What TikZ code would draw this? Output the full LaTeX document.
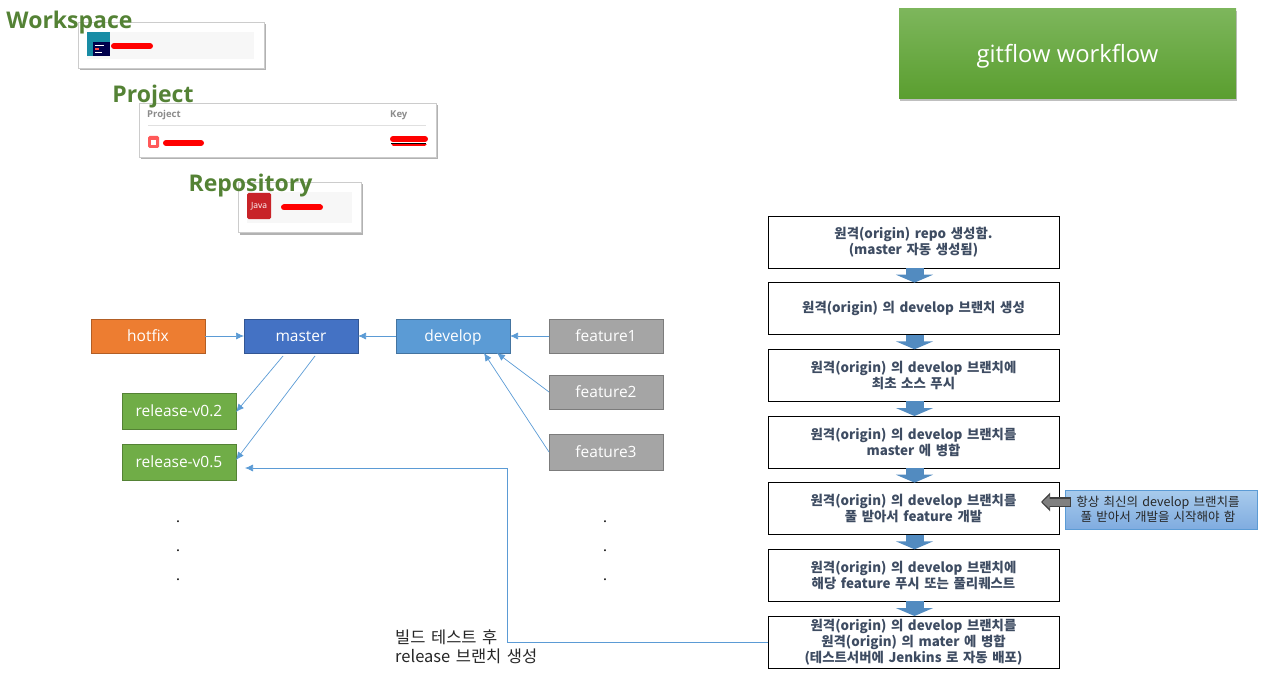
\documentclass[tikz,border=0pt]{standalone}
\usepackage{fontspec}
\usepackage{xcolor}
\usetikzlibrary{arrows.meta,positioning,shadows}
\setmainfont{Open Sans}
\newfontfamily\krfont[WordSpace=1.5]{Noto Sans CJK KR}
\definecolor{accent}{RGB}{91,155,213}
\definecolor{steptext}{RGB}{62,76,98}
\definecolor{labelgreen}{RGB}{84,130,53}
\definecolor{hotfixfill}{RGB}{237,125,49}
\definecolor{masterfill}{RGB}{68,114,196}
\definecolor{featurefill}{RGB}{165,165,165}
\definecolor{releasefill}{RGB}{112,173,71}
\definecolor{titletop}{RGB}{125,182,92}
\definecolor{titlebot}{RGB}{90,158,47}
\definecolor{notetop}{RGB}{168,203,236}
\definecolor{notebot}{RGB}{128,172,224}
\definecolor{wsicon}{RGB}{24,140,165}
\definecolor{javared}{RGB}{200,35,40}
\newcommand{\dotcol}[1]{\node[dotmark] (#1a) at (#1,522) {.};
  \node[dotmark] (#1b) at (#1,551) {.};
  \node[dotmark] (#1c) at (#1,580) {.};}

\begin{document}
\begin{tikzpicture}[
  x=1pt,y=-1pt,
  branch/.style={draw=#1!75!black,fill=#1,text=white,minimum width=114pt,minimum height=34pt,
    text height=13pt,text depth=1.5pt,
    inner sep=0pt,outer sep=0pt,line width=0.8pt,font=\fontsize{15.5}{18}\selectfont},
  card/.style={draw=black!20,fill=white,line width=0.8pt,minimum width=#1,outer sep=0pt,
    drop shadow={shadow xshift=1.5pt,shadow yshift=-2.5pt,fill=black!60}},
  heading/.style={text=labelgreen,inner sep=0pt,font=\fontsize{23}{26}\selectfont\bfseries},
  stepbox/.style={draw=black,fill=white,text=steptext,minimum width=291pt,minimum height=52pt,
    inner sep=0pt,outer sep=0pt,line width=0.9pt,align=center,font=\krfont\fontsize{13.4}{16}\selectfont\bfseries},
  flowarr/.style={-{Triangle[width=37pt,length=8pt]},line width=18pt,accent!90!black},
  arr/.style={-{Latex[length=8pt,width=7pt]},line width=0.7pt,accent},
  dotmark/.style={inner sep=0pt,font=\fontsize{15}{18}\selectfont},
  redact/.style={red,line width=6pt,line cap=round},
  node distance=14.67pt,
]
  \useasboundingbox (0,0) rectangle (1263,687);

  % screenshots
  \node[card=186pt,minimum height=46pt] (wscard) at (171,45) {};
  \fill[black!3] (87,32) rectangle (254,59);
  \fill[wsicon] (87,32) rectangle (110,56);
  \fill[blue!30!black] (93,42) rectangle (110,56);
  \fill[white] (95,45) rectangle (104,46.5);
  \fill[red!70] (95,48.5) rectangle (99,50);
  \fill[white] (95,52) rectangle (102,53.5);
  \draw[redact] (114,46) -- (150,46);
  \node[card=297pt,minimum height=54pt] (prcard) at (287.5,130) {};
  \begin{scope}
    \clip (140,110) rectangle (430,124);
    \node[text=black!45,inner sep=0pt,anchor=west,font=\fontsize{9.5}{11}\selectfont\bfseries] (prhead) at (147,115) {Project};
    \node[text=black!45,inner sep=0pt,anchor=west,font=\fontsize{9.5}{11}\selectfont\bfseries] (keyhead) at (390,115) {Key};
  \end{scope}
  \draw[black!12] (148,125) -- (426,125);
  \fill[red!65,rounded corners=1.5pt] (148,136) rectangle (159,148);
  \fill[white] (151,140) rectangle (156,145);
  \draw[redact] (166,143) -- (201,143);
  \draw[red,line width=3pt,line cap=round] (393,145) -- (425,145);
  \draw[redact] (393,139) -- (425,139);
  \draw[black,line width=0.8pt] (391,143) -- (426,143);
  \node[card=123pt,minimum height=50pt] (rpcard) at (299.5,207) {};
  \fill[black!3] (247,192) rectangle (352,223);
  \node[fill=javared,text=white,rounded corners=1.5pt,minimum width=24pt,minimum height=26pt,inner sep=0pt,
    font=\fontsize{8.5}{9}\selectfont] (javaicon) at (259,206) {Java};
  \draw[redact] (284,207.5) -- (320,207.5);

  \node[heading] (wslabel) at (69.5,23) {Workspace};
  \node[heading] (prlabel) at (153,97) {Project};
  \node[heading] (rplabel) at (250.5,186) {Repository};

  \node[draw=none,top color=titletop,bottom color=titlebot,text=white,outer sep=0pt,inner sep=0pt,
    minimum width=337pt,minimum height=90pt,text height=20pt,text depth=3pt,
    drop shadow={shadow xshift=1pt,shadow yshift=-2pt,fill=black!50},
    font=\fontsize{23.8}{26}\selectfont] (title) at (1067.5,54) {gitflow workflow};

  % branches
  \node[branch=hotfixfill] (hotfix) at (148,336) {hotfix};
  \node[branch=masterfill,right=39pt of hotfix] (master) {master};
  \node[branch=accent,right=38pt of master] (develop) {develop};
  \node[branch=featurefill,right=39pt of develop] (feature1) {feature1};
  \node[branch=featurefill,below=22pt of feature1] (feature2) {feature2};
  \node[branch=featurefill,minimum height=36pt,below=25pt of feature2] (feature3) {feature3};
  \node[branch=releasefill,minimum height=36pt] (rel02) at (179,411) {release-v0.2};
  \node[branch=releasefill,minimum height=36pt] (rel05) at (179,462) {release-v0.5};
  \dotcol{178}
  \dotcol{605}

  % steps
  \node[stepbox] (s1) at (913.5,242) {원격(origin) repo 생성함.\\(master 자동 생성됨)};
  \node[stepbox,below=of s1] (s2) {원격(origin) 의 develop 브랜치 생성};
  \node[stepbox,below=of s2] (s3) {원격(origin) 의 develop 브랜치에\\최초 소스 푸시};
  \node[stepbox,below=of s3] (s4) {원격(origin) 의 develop 브랜치를\\master 에 병합};
  \node[stepbox,below=of s4] (s5) {원격(origin) 의 develop 브랜치를\\풀 받아서 feature 개발};
  \node[stepbox,below=of s5] (s6) {원격(origin) 의 develop 브랜치에\\해당 feature 푸시 또는 풀리퀘스트};
  \node[stepbox,below=of s6] (s7) {원격(origin) 의 develop 브랜치를\\원격(origin) 의 mater 에 병합\\(테스트서버에 Jenkins 로 자동 배포)};
  \foreach \a/\b in {s1/s2,s2/s3,s3/s4,s4/s5,s5/s6,s6/s7}
    \draw[flowarr] ([xshift=1pt]\a.south) -- ([xshift=1pt]\b.north);

  % note
  \node[draw=accent,top color=notetop,bottom color=notebot,minimum width=192pt,minimum height=39pt,
    inner sep=0pt,align=center,text=black!85,font=\krfont\fontsize{12.5}{14.5}\selectfont] (note) at (1161,509.5)
    {\hspace*{-6pt}항상 최신의 develop 브랜치를\\\hspace*{-6pt}풀 받아서 개발을 시작해야 함};
  \coordinate (notetip) at (1041,502);
  \coordinate (notetail) at (1071,502);
  \draw[-{Triangle[width=18pt,length=9pt]},line width=10pt,black!75] (notetail) -- (notetip);
  \draw[-{Triangle[width=13pt,length=7pt]},line width=7pt,black!50] (notetail) ++(-1,0) -- ([xshift=1.6pt]notetip);

  % arrows
  \draw[arr] (hotfix) -- (master);
  \draw[arr] (develop) -- (master);
  \draw[arr] (feature1) -- (develop);
  \draw[arr] (feature2.west) -- ([xshift=-13pt]develop.south east);
  \draw[arr] (feature3.west) -- ([xshift=-26pt]develop.south east);
  \draw[arr] ([xshift=-18pt,yshift=-3pt]master.south) -- ([yshift=-1pt]rel02.east);
  \draw[arr] ([xshift=14pt,yshift=-3pt]master.south) -- ([yshift=2pt]rel05.east);
  \node[inner sep=0pt,anchor=north west,align=left,text=black!85,
    font=\krfont\fontsize{16.5}{19}\selectfont] (buildnote) at (395,630) {빌드 테스트 후\\release 브랜치 생성};
  \coordinate (target) at (245,468);
  \draw[arr] (s7.west) -| (507,468) -- (target);
\end{tikzpicture}
\end{document}
